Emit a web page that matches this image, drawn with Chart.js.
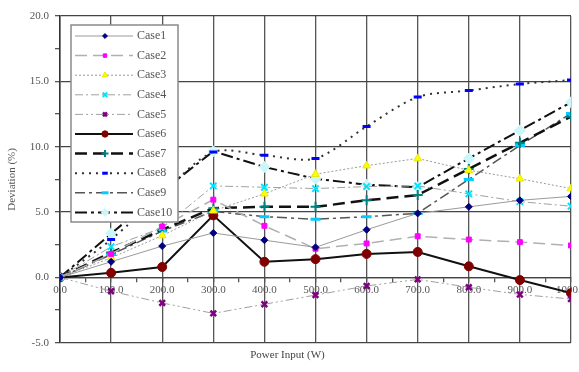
<!DOCTYPE html>
<html>
<head>
<meta charset="utf-8">
<script src="https://cdn.jsdelivr.net/npm/chart.js@4"></script>
<style>
  body { margin: 0; background: #fff; }
  #wrap { width: 579px; height: 372px; }
</style>
</head>
<body>
<div id="wrap"><canvas id="devChart"></canvas></div>
<script>
// power input (W)
const power = [0, 100, 200, 300, 400, 500, 600, 700, 800, 900, 1000];

// deviation (%) per case
const case1 = [0, 1.2, 2.4, 3.4, 2.85, 2.3, 3.65, 4.9, 5.4, 5.9, 6.2];
const case2 = [0, 1.8, 3.9, 5.95, 3.95, 2.2, 2.6, 3.15, 2.9, 2.7, 2.45];
const case3 = [0, 1.5, 3.2, 5.1, 6.4, 7.9, 8.55, 9.1, 8.2, 7.55, 6.8];
const case4 = [0, 2.35, 3.8, 7.0, 6.9, 6.8, 6.95, 7.0, 6.4, 5.8, 5.45];
const case5 = [0, -1.05, -1.95, -2.75, -2.05, -1.35, -0.65, -0.15, -0.75, -1.3, -1.65];
const case6 = [0, 0.35, 0.8, 4.75, 1.2, 1.4, 1.8, 1.95, 0.85, -0.2, -1.2];
const case7 = [0, 1.9, 3.65, 5.3, 5.4, 5.4, 5.9, 6.3, 8.3, 10.3, 12.3];
const case8 = [0, 2.9, 6.4, 9.6, 9.35, 9.1, 11.55, 13.8, 14.3, 14.8, 15.1];
const case9 = [0, 1.75, 3.55, 5.05, 4.65, 4.45, 4.65, 4.9, 7.5, 10.1, 12.55];
const case10 = [0, 3.35, 6.6, 9.65, 8.45, 7.55, 7.1, 6.9, 9.1, 11.25, 13.4];

const caseNames = ['Case1', 'Case2', 'Case3', 'Case4', 'Case5', 'Case6', 'Case7', 'Case8', 'Case9', 'Case10'];
const caseValues = [case1, case2, case3, case4, case5, case6, case7, case8, case9, case10];

const styles = [
    { borderColor: '#9a9a9a', borderWidth: 1, borderDash: [], pointStyle: 'rectRot', pointBackgroundColor: '#000080', pointBorderColor: '#000080', pointRadius: 3.5, pointBorderWidth: 1 },
    { borderColor: '#b0b0b0', borderWidth: 1.5, borderDash: [12, 6], pointStyle: 'rect', pointBackgroundColor: '#ff00ff', pointBorderColor: '#ff00ff', pointRadius: 3.5, pointBorderWidth: 1 },
    { borderColor: '#9a9a9a', borderWidth: 1, borderDash: [2, 2], pointStyle: 'triangle', pointBackgroundColor: '#ffff00', pointBorderColor: '#e8e800', pointRadius: 4.5, pointBorderWidth: 1 },
    { borderColor: '#a0a0a0', borderWidth: 1, borderDash: [8, 3, 2, 3], pointStyle: 'crossRot', pointBackgroundColor: '#00ffff', pointBorderColor: '#00e5ff', pointRadius: 4.5, pointBorderWidth: 2 },
    { borderColor: '#a0a0a0', borderWidth: 1, borderDash: [8, 3, 2, 3, 2, 3], pointStyle: 'crossRot', pointBackgroundColor: '#800080', pointBorderColor: '#800080', pointRadius: 4, pointBorderWidth: 2.5 },
    { borderColor: '#111111', borderWidth: 2, borderDash: [], pointStyle: 'circle', pointBackgroundColor: '#800000', pointBorderColor: '#800000', pointRadius: 4.5, pointBorderWidth: 1 },
    { borderColor: '#111111', borderWidth: 2.5, borderDash: [12, 6], pointStyle: 'cross', pointBackgroundColor: '#008080', pointBorderColor: '#008080', pointRadius: 5, pointBorderWidth: 2 },
    { borderColor: '#333333', borderWidth: 2, borderDash: [2, 5], pointStyle: 'line', pointBackgroundColor: '#0000ff', pointBorderColor: '#0000ff', pointRadius: 4, pointBorderWidth: 3 },
    { borderColor: '#555555', borderWidth: 1.5, borderDash: [10, 4, 3, 4], pointStyle: 'line', pointBackgroundColor: '#00ccff', pointBorderColor: '#00ccff', pointRadius: 5, pointBorderWidth: 3 },
    { borderColor: '#111111', borderWidth: 2, borderDash: [12, 4, 3, 4], pointStyle: 'rectRot', pointBackgroundColor: '#ccf7fa', pointBorderColor: '#ccf7fa', pointRadius: 5.5, pointBorderWidth: 1 }
];

const datasets = caseNames.map((name, i) => Object.assign({
    label: name,
    data: power.map((p, j) => ({ x: p, y: caseValues[i][j] })),
    fill: false,
    tension: i === 7 ? 0.3 : 0
}, styles[i]));

// legend drawn inside the plot, top-left
const insideLegend = {
    id: 'insideLegend',
    afterDraw(chart) {
        const ctx = chart.ctx;
        const area = chart.chartArea;
        const x0 = area.left + 11;
        const y0 = area.top + 9;
        ctx.save();
        ctx.fillStyle = '#fff';
        ctx.fillRect(x0, y0, 107, 197);
        ctx.strokeStyle = '#8a8a8a';
        ctx.lineWidth = 1.5;
        ctx.setLineDash([]);
        ctx.strokeRect(x0, y0, 107, 197);
        chart.data.datasets.forEach((ds, i) => {
            const y = y0 + 11 + i * 19.6;
            ctx.setLineDash(ds.borderDash);
            ctx.strokeStyle = ds.borderColor;
            ctx.lineWidth = ds.borderWidth;
            ctx.beginPath();
            ctx.moveTo(x0 + 4, y);
            ctx.lineTo(x0 + 62, y);
            ctx.stroke();
            ctx.setLineDash([]);
            ctx.fillStyle = ds.pointBackgroundColor;
            ctx.strokeStyle = ds.pointBorderColor;
            ctx.lineWidth = ds.pointBorderWidth;
            Chart.helpers.drawPoint(ctx, {
                pointStyle: ds.pointStyle,
                radius: ds.pointRadius * 0.7,
                borderWidth: ds.pointBorderWidth,
                rotation: 0
            }, x0 + 34, y);
            ctx.fillStyle = '#555';
            ctx.font = '12px "Liberation Serif"';
            ctx.textBaseline = 'middle';
            ctx.textAlign = 'left';
            ctx.fillText(ds.label, x0 + 66, y);
        });
        ctx.restore();
    }
};

const ctx = document.getElementById('devChart');
new Chart(ctx, {
    type: 'line',
    data: { datasets: datasets },
    options: {
        responsive: true,
        maintainAspectRatio: false,
        animation: false,
        layout: { padding: { top: 16, right: 4, left: 0, bottom: 0 } },
        plugins: {
            legend: { display: false },
            tooltip: { enabled: false },
            title: {
                display: true,
                position: 'bottom',
                text: 'Power Input (W)',
                color: '#444',
                font: { family: 'Liberation Serif', size: 11, weight: 'normal' },
                padding: { top: 6, bottom: 10 }
            }
        },
        scales: {
            x: {
                type: 'linear',
                position: { y: 0 },
                min: 0,
                max: 1000,
                afterFit: (scale) => { scale.paddingLeft = 0; scale.paddingRight = 0; },
                ticks: {
                    stepSize: 50,
                    autoSkip: false,
                    maxRotation: 0,
                    padding: 2,
                    color: '#555',
                    font: { family: 'Liberation Serif', size: 11 },
                    callback: (v) => v % 100 === 0 ? v.toFixed(1) : ''
                },
                grid: {
                    color: (c) => c.tick && c.tick.value % 100 === 0 ? '#555' : 'transparent',
                    tickColor: '#555',
                    lineWidth: 1.3,
                    tickLength: 4
                },
                border: { color: '#444', width: 1.3 }
            },
            y: {
                min: -5,
                max: 20,
                afterFit: (scale) => { scale.width = 60; },
                ticks: {
                    stepSize: 2.5,
                    padding: 6,
                    color: '#555',
                    font: { family: 'Liberation Serif', size: 11 },
                    callback: (v) => v % 5 === 0 ? v.toFixed(1) : ''
                },
                grid: {
                    color: (c) => c.tick && c.tick.value % 5 === 0 ? '#444' : 'transparent',
                    tickColor: '#555',
                    lineWidth: 1.3,
                    tickLength: 5
                },
                border: { color: '#333', width: 1.5 },
                title: {
                    display: true,
                    text: 'Deviation (%)',
                    color: '#555',
                    font: { family: 'Liberation Serif', size: 11 },
                    padding: { top: 6, bottom: 0 }
                }
            }
        }
    },
    plugins: [insideLegend]
});
</script>
</body>
</html>
